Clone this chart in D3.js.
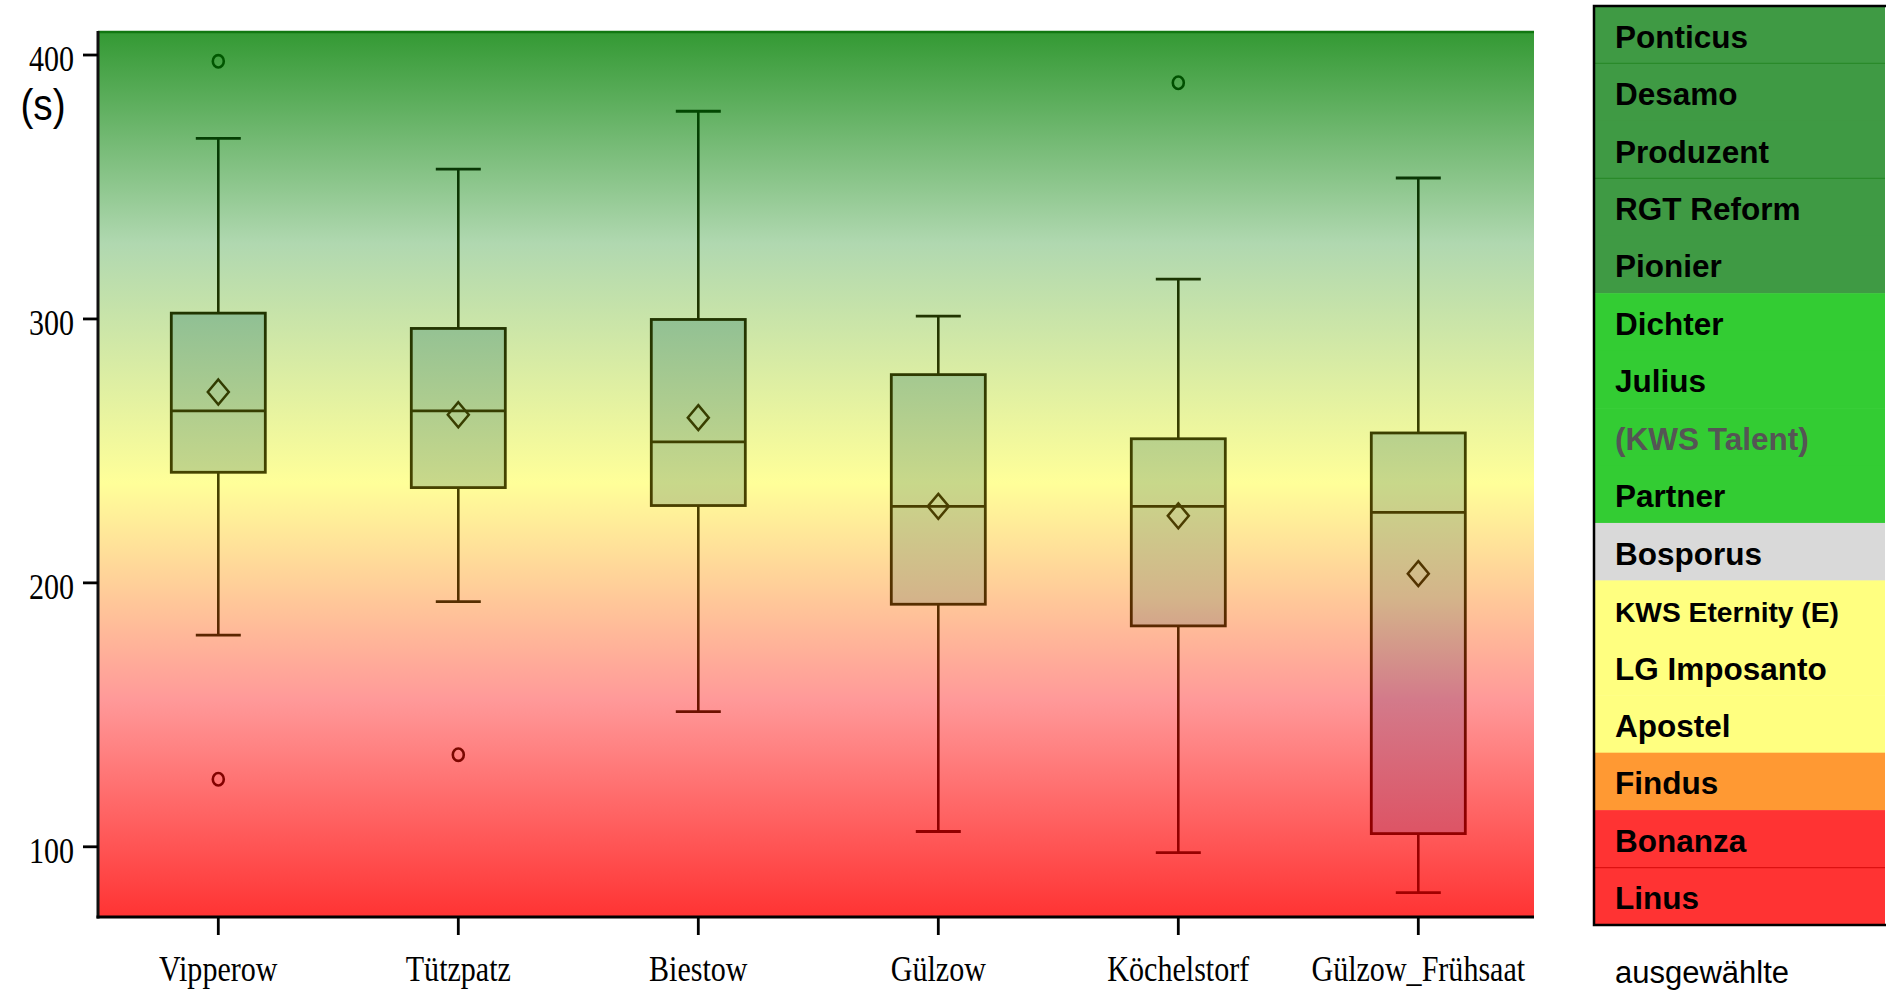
<!DOCTYPE html>
<html>
<head>
<meta charset="utf-8">
<script src="https://cdn.jsdelivr.net/npm/d3@7"></script>
<style>
  html, body { margin: 0; padding: 0; background: #ffffff; }
  svg { display: block; }
</style>
</head>
<body>
<svg id="chart" width="1886" height="996"></svg>
<script>
// ---------- data ----------
const categories   = ["Vipperow", "Tützpatz", "Biestow", "Gülzow", "Köchelstorf", "Gülzow_Frühsaat"];
const whiskerHigh  = [368.4, 356.8, 378.7, 301.1, 315.1, 353.4];
const q3Values     = [302.2, 296.4, 299.8, 278.9, 254.6, 256.8];
const medianValues = [265.2, 265.2, 253.4, 229.0, 229.0, 226.7];
const meanValues   = [272.3, 263.7, 262.6, 229.0, 225.4, 203.5];
const q1Values     = [241.9, 236.1, 229.3, 191.9, 183.7, 105.0];
const whiskerLow   = [180.2, 192.9, 151.2, 105.8, 97.8, 82.6];
const outlierValues = [[397.6, 125.6], [134.9], [], [], [389.5], []];
const yTicks = [100, 200, 300, 400];
const yUnitLabel = "(s)";

const legendNames  = ["Ponticus", "Desamo", "Produzent", "RGT Reform", "Pionier",
                      "Dichter", "Julius", "(KWS Talent)", "Partner", "Bosporus",
                      "KWS Eternity (E)", "LG Imposanto", "Apostel", "Findus", "Bonanza", "Linus"];
const legendGroups = ["g1", "g2", "g2", "g3", "g3", "g4", "g4", "g4", "g4", "g5",
                      "g6", "g6", "g6", "g7", "g8", "g9"];
const legendDimmed = ["(KWS Talent)"];
const legendFooter = "ausgewählte";

// ---------- styling ----------
const groupColor = { g1: "#3f9a44", g2: "#3f9a44", g3: "#3f9a44", g4: "#33cc33",
                     g5: "#d9d9d9", g6: "#ffff80", g7: "#ff9933", g8: "#ff3333", g9: "#ff3333" };
const groupSepColor = { g2: "#2a8a2a", g3: "#2a8a2a", g9: "#dd1111" };

const plot = { left: 98, right: 1534, top: 31, bottom: 917 };

const svg = d3.select("#chart");
const defs = svg.append("defs");

function vGrad(id, stops) {
  const g = defs.append("linearGradient").attr("id", id)
    .attr("gradientUnits", "userSpaceOnUse")
    .attr("x1", 0).attr("x2", 0).attr("y1", plot.top).attr("y2", plot.bottom);
  stops.forEach(s => g.append("stop").attr("offset", s[0]).attr("stop-color", s[1]));
}
vGrad("bgGrad", [[0, "#339933"], [0.24, "#b0d8b0"], [0.51, "#ffff99"], [0.755, "#ff9999"], [1, "#ff3333"]]);
vGrad("boxGrad", [[0, "#3a8a50"], [0.24, "#80b890"], [0.32, "#90c094"], [0.51, "#c8d88a"],
                  [0.64, "#d4b48a"], [0.755, "#d37a8a"], [0.9, "#dd5566"], [1, "#e04050"]]);
vGrad("lineGrad", [[0, "#006000"], [0.06, "#005000"], [0.15, "#083605"], [0.33, "#223400"],
                   [0.5, "#454400"], [0.64, "#553000"], [0.75, "#661500"], [0.85, "#850000"], [1, "#a80000"]]);

// ---------- scales ----------
const y = d3.scaleLinear().domain([73.4, 409.1]).range([plot.bottom, plot.top]);
const x = d3.scalePoint().domain(categories).range([218.3, 1418.3]);

// background
svg.append("rect")
  .attr("x", plot.left).attr("y", plot.top)
  .attr("width", plot.right - plot.left).attr("height", plot.bottom - plot.top)
  .attr("fill", "url(#bgGrad)");
svg.append("line")
  .attr("x1", plot.left).attr("x2", plot.right).attr("y1", plot.top + 1).attr("y2", plot.top + 1)
  .attr("stroke", "#117711").attr("stroke-width", 2.5);

// ---------- boxes ----------
const boxW = 94, capW = 45;
const rows = categories.map((c, i) => ({
  c, hi: whiskerHigh[i], q3: q3Values[i], med: medianValues[i], mean: meanValues[i],
  q1: q1Values[i], lo: whiskerLow[i], out: outlierValues[i]
}));

const gBox = svg.append("g").attr("stroke", "url(#lineGrad)").attr("fill", "none");
rows.forEach(d => {
  const cx = x(d.c);
  // whiskers
  gBox.append("line").attr("x1", cx).attr("x2", cx).attr("y1", y(d.hi)).attr("y2", y(d.q3)).attr("stroke-width", 2.6);
  gBox.append("line").attr("x1", cx).attr("x2", cx).attr("y1", y(d.q1)).attr("y2", y(d.lo)).attr("stroke-width", 2.6);
  gBox.append("line").attr("x1", cx - capW / 2).attr("x2", cx + capW / 2).attr("y1", y(d.hi)).attr("y2", y(d.hi)).attr("stroke-width", 2.8);
  gBox.append("line").attr("x1", cx - capW / 2).attr("x2", cx + capW / 2).attr("y1", y(d.lo)).attr("y2", y(d.lo)).attr("stroke-width", 2.8);
  // box
  gBox.append("rect").attr("x", cx - boxW / 2).attr("y", y(d.q3))
    .attr("width", boxW).attr("height", y(d.q1) - y(d.q3))
    .attr("fill", "url(#boxGrad)").attr("stroke-width", 2.8);
  // median
  gBox.append("line").attr("x1", cx - boxW / 2).attr("x2", cx + boxW / 2)
    .attr("y1", y(d.med)).attr("y2", y(d.med)).attr("stroke-width", 2.8);
  // mean diamond
  const my = y(d.mean);
  gBox.append("path")
    .attr("d", `M${cx},${my - 12.5}L${cx + 10.5},${my}L${cx},${my + 12.5}L${cx - 10.5},${my}Z`)
    .attr("stroke-width", 2.5);
  // outliers
  d.out.forEach(v => {
    gBox.append("ellipse").attr("cx", cx).attr("cy", y(v)).attr("rx", 5.5).attr("ry", 6.2)
      .attr("stroke-width", 2.6);
  });
});

// ---------- axes ----------
const serif = "'Liberation Serif', 'Times New Roman', serif";
const sans = "'Liberation Sans', Arial, sans-serif";

// y axis line
svg.append("line").attr("x1", plot.left).attr("x2", plot.left)
  .attr("y1", plot.top).attr("y2", plot.bottom + 1.5)
  .attr("stroke", "#111").attr("stroke-width", 3);
// x axis line
svg.append("line").attr("x1", plot.left - 1.5).attr("x2", plot.right)
  .attr("y1", plot.bottom).attr("y2", plot.bottom)
  .attr("stroke", "#000").attr("stroke-width", 3);

const yAxisG = svg.append("g");
yTicks.forEach(t => {
  yAxisG.append("line").attr("x1", plot.left - 15).attr("x2", plot.left)
    .attr("y1", y(t)).attr("y2", y(t)).attr("stroke", "#000").attr("stroke-width", 2.8);
  yAxisG.append("text")
    .attr("transform", `translate(${plot.left - 24},${y(t) + 16}) scale(0.835,1)`)
    .attr("text-anchor", "end")
    .attr("font-family", serif).attr("font-size", 36).attr("fill", "#000")
    .text(d3.format("d")(t));
});

svg.append("text")
  .attr("transform", `translate(43,120) scale(0.88,1)`)
  .attr("text-anchor", "middle")
  .attr("font-family", sans).attr("font-size", 44).attr("fill", "#000")
  .text(yUnitLabel);

const xAxisG = svg.append("g");
categories.forEach(c => {
  xAxisG.append("line").attr("x1", x(c)).attr("x2", x(c))
    .attr("y1", plot.bottom).attr("y2", plot.bottom + 18)
    .attr("stroke", "#000").attr("stroke-width", 2.8);
  xAxisG.append("text")
    .attr("transform", `translate(${x(c)},981) scale(0.835,1)`)
    .attr("text-anchor", "middle")
    .attr("font-family", serif).attr("font-size", 36).attr("fill", "#000")
    .text(c);
});

// ---------- legend ----------
const leg = { left: 1594, right: 1885, top: 6, bottom: 925 };
const rowH = (leg.bottom - leg.top) / legendNames.length;
const lg = svg.append("g");
legendNames.forEach((n, i) => {
  const g = legendGroups[i];
  const ry = leg.top + i * rowH;
  lg.append("rect").attr("x", leg.left).attr("y", ry)
    .attr("width", leg.right - leg.left).attr("height", rowH + 0.5)
    .attr("fill", groupColor[g]);
  if (i > 0 && legendGroups[i - 1] !== g && groupSepColor[g] && groupColor[legendGroups[i - 1]] === groupColor[g]) {
    lg.append("line").attr("x1", leg.left).attr("x2", leg.right).attr("y1", ry).attr("y2", ry)
      .attr("stroke", groupSepColor[g]).attr("stroke-width", 1.2);
  }
});
legendNames.forEach((n, i) => {
  const ry = leg.top + i * rowH;
  lg.append("text")
    .attr("x", 1615).attr("y", ry + rowH / 2 + 13)
    .attr("font-family", sans).attr("font-weight", "bold")
    .attr("font-size", n === "KWS Eternity (E)" ? 28.2 : 31.5)
    .attr("fill", legendDimmed.includes(n) ? "#555555" : "#000000")
    .text(n);
});
lg.append("path")
  .attr("d", `M${leg.right + 2},${leg.top}H${leg.left}V${leg.bottom}H${leg.right + 2}`)
  .attr("fill", "none").attr("stroke", "#000").attr("stroke-width", 2.5);

svg.append("text").attr("x", 1615).attr("y", 983)
  .attr("font-family", sans).attr("font-size", 31).attr("fill", "#000")
  .text(legendFooter);
</script>
</body>
</html>
